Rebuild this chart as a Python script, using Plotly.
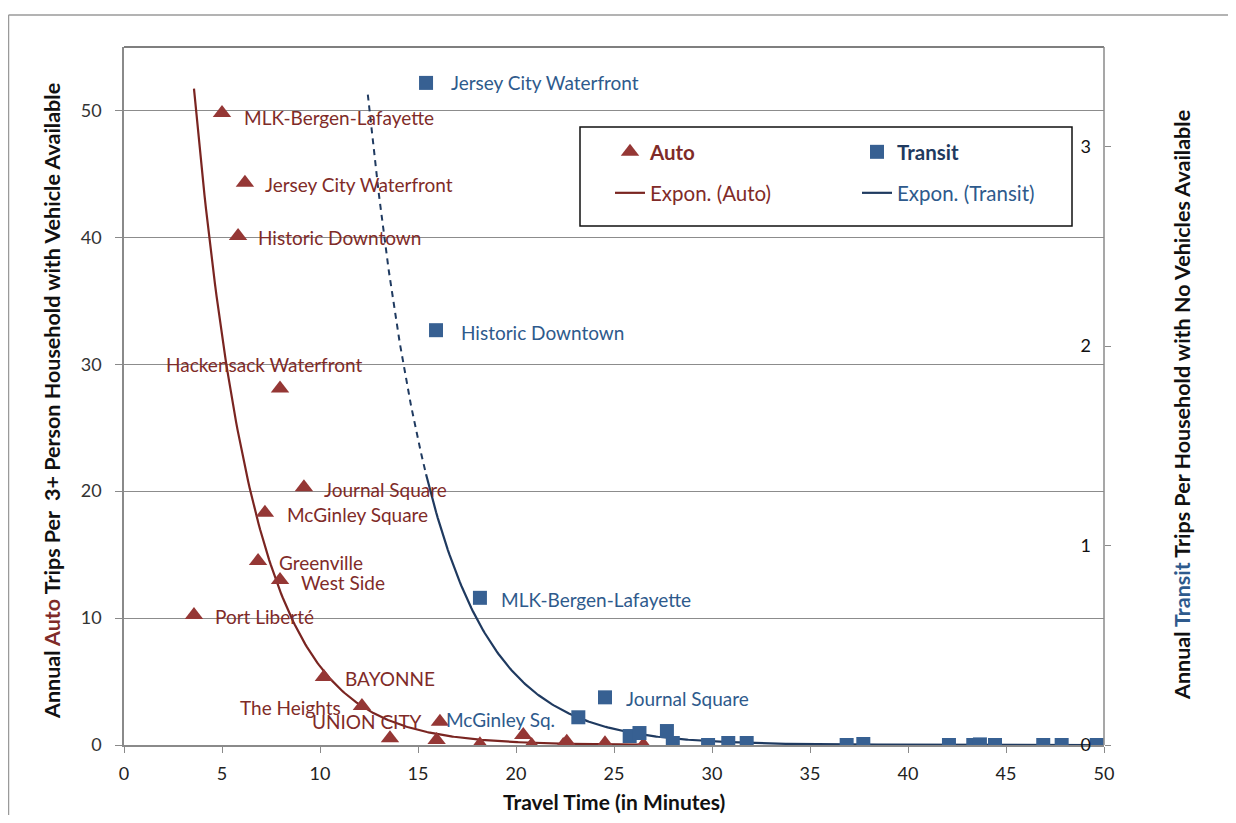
import numpy as np
import plotly.graph_objects as go

# ---------------- data ----------------
auto_names = ["MLK-Bergen-Lafayette", "Jersey City Waterfront", "Historic Downtown",
              "Hackensack Waterfront", "Journal Square", "McGinley Square", "Greenville",
              "West Side", "Port Liberté", "BAYONNE", "The Heights", "UNION CITY",
              "", "", "", "", "", "", "", "", ""]
auto_x = [5.0, 6.17, 5.82, 7.96, 9.18, 7.19, 6.84, 7.96, 3.57, 10.2, 12.14, 13.57,
          16.12, 15.95, 18.16, 20.37, 20.8, 22.41, 22.59, 24.54, 26.5]
auto_y = [49.8, 44.3, 40.1, 28.1, 20.3, 18.3, 14.5, 13.0, 10.25, 5.36, 3.08, 0.53,
          1.83, 0.39, 0.05, 0.79, 0.0, 0.0, 0.26, 0.13, 0.0]

transit_names = ["Jersey City Waterfront", "Historic Downtown", "MLK-Bergen-Lafayette",
                 "Journal Square", "McGinley Sq.", "", "", "", "", "", "", "", "", "",
                 "", "", "", "", "", "", ""]
transit_x = [15.41, 15.92, 18.16, 24.54, 23.18, 25.8, 26.3, 27.7, 28.0, 29.8, 30.83,
             31.77, 36.87, 37.72, 42.09, 43.33, 43.67, 44.44, 46.9, 47.84, 49.63]
transit_y = [3.32, 2.08, 0.738, 0.239, 0.139, 0.045, 0.06, 0.07, 0.01, 0.0, 0.01,
             0.01, 0.0, 0.005, 0.0, 0.0, 0.003, 0.0, 0.0, 0.0, 0.0]

# exponential trendline coefficients  y = a * exp(-b x), and x-extent
auto_trend = [168.0, 0.33]
auto_trend_range = [3.57, 26.5]
transit_trend = [128.0, 0.295]
transit_trend_range = [12.44, 15.41, 49.63]   # dashed backcast start, data start, end

x_ticks = [0, 5, 10, 15, 20, 25, 30, 35, 40, 45, 50]
y_ticks = [0, 10, 20, 30, 40, 50]
y2_ticks = [0, 1, 2, 3]

# ---------------- styles ----------------
FONT = "Lato"
AUTO_MK = "#953735"
AUTO_LN = "#7A2521"
AUTO_TX = "#7F2B28"
TR_MK = "#376092"
TR_LN = "#1F3A60"
TR_TX = "#2E5A8C"
LAB_SIZE = 19

# label offsets (pixels): name -> (xshift, yshift, xanchor)
auto_lab = {
    "MLK-Bergen-Lafayette": (20, -5, "left"),
    "Jersey City Waterfront": (18, -2, "left"),
    "Historic Downtown": (18, -1, "left"),
    "Hackensack Waterfront": (-16, 24, "center"),
    "Journal Square": (18, -2, "left"),
    "McGinley Square": (20, -2, "left"),
    "Greenville": (19, -2, "left"),
    "West Side": (19, -2, "left"),
    "Port Liberté": (19, -2, "left"),
    "BAYONNE": (19, -2, "left"),
    "The Heights": (-19, -2, "right"),
    "UNION CITY": (34, 17, "right"),
}
tr_lab = {
    "Jersey City Waterfront": (23, 0, "left"),
    "Historic Downtown": (23, -2, "left"),
    "MLK-Bergen-Lafayette": (19, -2, "left"),
    "Journal Square": (19, -1, "left"),
    "McGinley Sq.": (-21, -2, "right"),
}

# page geometry (browser body has an 8px margin)
OFF = 8
SL, SR, ST, SB = 124, 1104, 47, 745          # plot area in screen pixels
W, H = 1236 - 2 * OFF, 823 - 2 * OFF


def px(xs):
    return (xs - SL) / (SR - SL)


def py(ys):
    return (SB - ys) / (SB - ST)


fig = go.Figure()

# trendlines
xa = np.linspace(auto_trend_range[0], auto_trend_range[1], 300)
fig.add_trace(go.Scatter(x=xa, y=auto_trend[0] * np.exp(-auto_trend[1] * xa), mode="lines",
                         line=dict(color=AUTO_LN, width=2.2),
                         name="<span style='color:%s'>Expon. (Auto)</span>" % AUTO_TX,
                         legend="legend2", hoverinfo="skip"))
xd = np.linspace(transit_trend_range[0], transit_trend_range[1], 100)
fig.add_trace(go.Scatter(x=xd, y=transit_trend[0] * np.exp(-transit_trend[1] * xd), mode="lines",
                         line=dict(color=TR_LN, width=2, dash="6px,5px"),
                         yaxis="y2", showlegend=False, hoverinfo="skip"))
xt = np.linspace(transit_trend_range[1], transit_trend_range[2], 400)
fig.add_trace(go.Scatter(x=xt, y=transit_trend[0] * np.exp(-transit_trend[1] * xt), mode="lines",
                         line=dict(color=TR_LN, width=2.2),
                         name="<span style='color:%s'>Expon. (Transit)</span>" % TR_TX,
                         yaxis="y2", legend="legend2", hoverinfo="skip"))

# markers
fig.add_trace(go.Scatter(x=auto_x, y=auto_y, mode="markers",
                         marker=dict(symbol="triangle-up", size=16, color=AUTO_MK),
                         name="<b><span style='color:%s'>Auto</span></b>" % AUTO_TX,
                         legend="legend"))
fig.add_trace(go.Scatter(x=transit_x, y=transit_y, mode="markers",
                         marker=dict(symbol="square", size=14, color=TR_MK),
                         name="<b><span style='color:%s'>Transit</span></b>" % "#1F3A60",
                         yaxis="y2", legend="legend"))

annotations = []
for n, x, y in zip(auto_names, auto_x, auto_y):
    if n and n in auto_lab:
        dx, dy, anc = auto_lab[n]
        annotations.append(dict(x=x, y=y, xref="x", yref="y", text=n, showarrow=False,
                                xanchor=anc, yanchor="middle", xshift=dx, yshift=dy,
                                font=dict(family=FONT, size=LAB_SIZE, color=AUTO_TX)))
for n, x, y in zip(transit_names, transit_x, transit_y):
    if n and n in tr_lab:
        dx, dy, anc = tr_lab[n]
        annotations.append(dict(x=x, y=y, xref="x", yref="y2", text=n, showarrow=False,
                                xanchor=anc, yanchor="middle", xshift=dx, yshift=dy,
                                font=dict(family=FONT, size=LAB_SIZE, color=TR_TX)))

# axis titles
annotations.append(dict(x=px(52), y=py(401), xref="paper", yref="paper", textangle=-90,
                        xanchor="center", yanchor="middle",
                        text="<b>Annual <span style='color:%s'>Auto</span> Trips Per  3+ Person Household with Vehicle Available</b>" % AUTO_TX,
                        showarrow=False, font=dict(family=FONT, size=21.5, color="#111")))
annotations.append(dict(x=px(1182), y=py(405), xref="paper", yref="paper", textangle=-90,
                        xanchor="center", yanchor="middle",
                        text="<b>Annual <span style='color:%s'>Transit</span> Trips Per Household with No Vehicles Available</b>" % TR_TX,
                        showarrow=False, font=dict(family=FONT, size=21.5, color="#111")))
annotations.append(dict(x=px(614), y=py(801), xref="paper", yref="paper",
                        xanchor="center", yanchor="middle",
                        text="<b>Travel Time (in Minutes)</b>", showarrow=False,
                        font=dict(family=FONT, size=21, color="#111")))

shapes = [
    # plot frame
    dict(type="line", xref="paper", yref="paper", x0=0, x1=1, y0=1, y1=1,
         line=dict(color="#555", width=1.5)),
    dict(type="line", xref="paper", yref="paper", x0=1, x1=1, y0=0, y1=1,
         line=dict(color="#8a8a8a", width=1.5)),
    # outer frame
    dict(type="line", xref="paper", yref="paper", x0=px(8.5), x1=px(1250), y0=py(15), y1=py(15),
         line=dict(color="#9a9a9a", width=1.5)),
    dict(type="line", xref="paper", yref="paper", x0=px(8.5), x1=px(8.5), y0=py(15), y1=py(840),
         line=dict(color="#9a9a9a", width=1.5)),
    # legend box
    dict(type="rect", xref="paper", yref="paper", x0=px(580), x1=px(1072), y0=py(226), y1=py(127),
         line=dict(color="#111", width=1.5)),
]

fig.update_layout(
    width=W, height=H,
    margin=dict(l=SL - OFF, r=W - (SR - OFF), t=ST - OFF, b=H - (SB - OFF)),
    paper_bgcolor="white", plot_bgcolor="white",
    font=dict(family=FONT, size=18, color="#333"),
    xaxis=dict(range=[0, 50], tickvals=x_ticks, showgrid=False, zeroline=False,
               showline=True, linecolor="#8a8a8a", linewidth=1.5,
               ticks="outside", ticklen=6, tickcolor="#8a8a8a", ticklabelstandoff=6,
               ticklabeloverflow="allow",
               tickfont=dict(family=FONT, size=18, color="#222")),
    yaxis=dict(range=[0, 55], tickvals=y_ticks, showgrid=True, gridcolor="#8c8c8c",
               gridwidth=1.3, zeroline=False, showline=True, linecolor="#8a8a8a",
               linewidth=1.5, ticks="outside", ticklen=7, tickcolor="#8a8a8a",
               ticklabelstandoff=10, ticklabeloverflow="allow",
               tickfont=dict(family=FONT, size=18, color="#333")),
    yaxis2=dict(range=[0, 3.5], tickvals=y2_ticks, overlaying="y", side="right",
                showgrid=False, zeroline=False, showline=False,
                ticks="outside", ticklen=6, tickcolor="#8a8a8a",
                ticklabelposition="inside", ticklabelstandoff=10,
                ticklabeloverflow="allow",
                tickfont=dict(family=FONT, size=18, color="#111")),
    showlegend=True,
    legend=dict(orientation="h", x=px(610), y=py(152), xanchor="left", yanchor="middle",
                entrywidth=202, entrywidthmode="pixels", bgcolor="rgba(0,0,0,0)",
                font=dict(family=FONT, size=20.5), traceorder="normal"),
    legend2=dict(orientation="h", x=px(610), y=py(193), xanchor="left", yanchor="middle",
                 entrywidth=202, entrywidthmode="pixels", bgcolor="rgba(0,0,0,0)",
                 font=dict(family=FONT, size=20.5), traceorder="normal"),
    annotations=annotations,
    shapes=shapes,
)

fig.write_html("out.html")
